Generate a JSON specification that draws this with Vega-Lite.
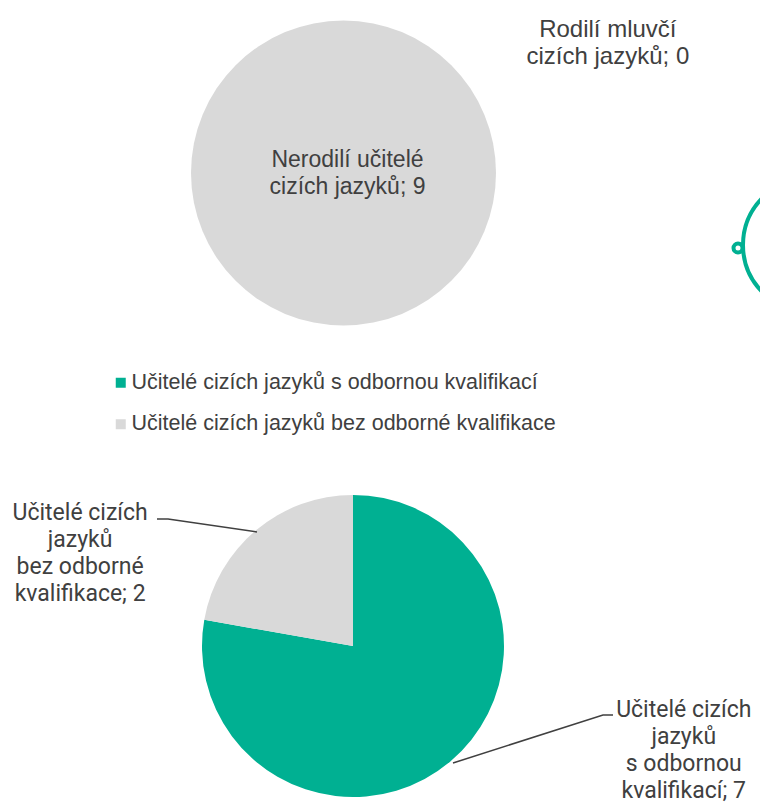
{
  "$schema": "https://vega.github.io/schema/vega-lite/v6.json",
  "padding": 0,
  "spacing": 0,
  "background": "white",
  "config": {"view": {"stroke": null}, "concat": {"spacing": 0}},
  "datasets": {
    "top": [
      {"category": "Nerodilí učitelé cizích jazyků", "value": 9, "label": "Nerodilí učitelé\ncizích jazyků; 9"},
      {"category": "Rodilí mluvčí cizích jazyků", "value": 0, "label": "Rodilí mluvčí\ncizích jazyků; 0"}
    ],
    "bottom": [
      {"category": "Učitelé cizích jazyků s odbornou kvalifikací", "value": 7, "label": "Učitelé cizích\njazyků\ns odbornou\nkvalifikací; 7"},
      {"category": "Učitelé cizích jazyků bez odborné kvalifikace", "value": 2, "label": "Učitelé cizích\njazyků\nbez odborné\nkvalifikace; 2"}
    ]
  },
  "resolve": {"scale": {"color": "independent"}, "legend": {"color": "independent"}},
  "vconcat": [
    {
      "width": 687,
      "height": 346,
      "data": {"name": "top"},
      "layer": [
        {
          "mark": {"type": "arc", "outerRadius": 152.5},
          "encoding": {
            "theta": {"field": "value", "type": "quantitative", "stack": true},
            "color": {
              "field": "category",
              "type": "nominal",
              "scale": {"domain": ["Nerodilí učitelé cizích jazyků", "Rodilí mluvčí cizích jazyků"], "range": ["#d9d9d9", "#00b092"]},
              "legend": null
            }
          }
        },
        {
          "transform": [{"filter": "datum.value == 9"}],
          "mark": {"type": "text", "align": "center", "baseline": "middle", "font": "Liberation Sans", "fontSize": 23, "lineHeight": 27, "lineBreak": "\n", "color": "#404040", "dx": 4, "dy": -13.5},
          "encoding": {"text": {"field": "label"}}
        },
        {
          "transform": [{"filter": "datum.value == 0"}],
          "mark": {"type": "text", "align": "center", "baseline": "middle", "font": "Liberation Sans", "fontSize": 24, "lineHeight": 27, "lineBreak": "\n", "color": "#404040", "theta": 1.111, "radius": 295, "dy": -12},
          "encoding": {"text": {"field": "label"}}
        },
        {
          "transform": [{"filter": "datum.value == 9"}],
          "mark": {
            "type": "point",
            "shape": "M 3.995 0.72 C 3.995 0.35 4.295 0.05 4.665 0.05 C 5.035 0.05 5.335 0.35 5.335 0.72 C 5.335 1.09 5.035 1.39 4.665 1.39 C 4.295 1.39 3.995 1.09 3.995 0.72 Z M 3.9 0.75 C 3.9 0.725 3.92 0.705 3.945 0.705 C 3.97 0.705 3.99 0.725 3.99 0.75 C 3.99 0.775 3.97 0.795 3.945 0.795 C 3.92 0.795 3.9 0.775 3.9 0.75 Z",
            "size": 40000,
            "filled": false,
            "stroke": "#00b092",
            "strokeWidth": 4,
            "opacity": 1
          },
          "encoding": {}
        }
      ]
    },
    {
      "width": 706,
      "height": 600,
      "data": {"name": "bottom"},
      "layer": [
        {
          "mark": {"type": "arc", "outerRadius": 151},
          "encoding": {
            "theta": {"field": "value", "type": "quantitative", "stack": true},
            "order": {"field": "value", "sort": "descending"},
            "color": {
              "field": "category",
              "type": "nominal",
              "sort": null,
              "scale": {"domain": ["Učitelé cizích jazyků s odbornou kvalifikací", "Učitelé cizích jazyků bez odborné kvalifikace"], "range": ["#00b092", "#d9d9d9"]},
              "legend": {
                "orient": "none",
                "legendX": 110,
                "legendY": 26,
                "title": null,
                "direction": "vertical",
                "symbolType": "square",
                "symbolSize": 100,
                "symbolStrokeWidth": 0,
                "symbolOpacity": 1,
                "labelFont": "Liberation Sans",
                "labelFontSize": 21.5,
                "labelColor": "#404040",
                "labelOffset": 0,
                "labelLimit": 700,
                "rowPadding": 18.5,
                "padding": 0
              }
            }
          }
        },
        {
          "transform": [{"filter": "datum.value == 7"}],
          "mark": {"type": "text", "align": "center", "baseline": "middle", "font": "Roboto", "fontSize": 23, "lineHeight": 27, "lineBreak": "\n", "color": "#404040", "theta": 1.878, "radius": 347, "dy": -40.5},
          "encoding": {"text": {"field": "label"}}
        },
        {
          "transform": [{"filter": "datum.value == 2"}],
          "mark": {"type": "text", "align": "center", "baseline": "middle", "font": "Roboto", "fontSize": 23, "lineHeight": 27, "lineBreak": "\n", "color": "#404040", "theta": 5.038, "radius": 288, "dy": -40.5},
          "encoding": {"text": {"field": "label"}}
        },
        {
          "transform": [{"filter": "datum.value == 2"}],
          "mark": {"type": "point", "shape": "M -1.96 -1.27 L -1.85 -1.27 L -0.96 -1.14", "size": 40000, "filled": false, "stroke": "#404040", "strokeWidth": 1.5, "opacity": 1},
          "encoding": {}
        },
        {
          "transform": [{"filter": "datum.value == 7"}],
          "mark": {"type": "point", "shape": "M 1.0 1.17 L 2.5 0.69 L 2.6 0.69", "size": 40000, "filled": false, "stroke": "#404040", "strokeWidth": 1.5, "opacity": 1},
          "encoding": {}
        }
      ]
    }
  ]
}
